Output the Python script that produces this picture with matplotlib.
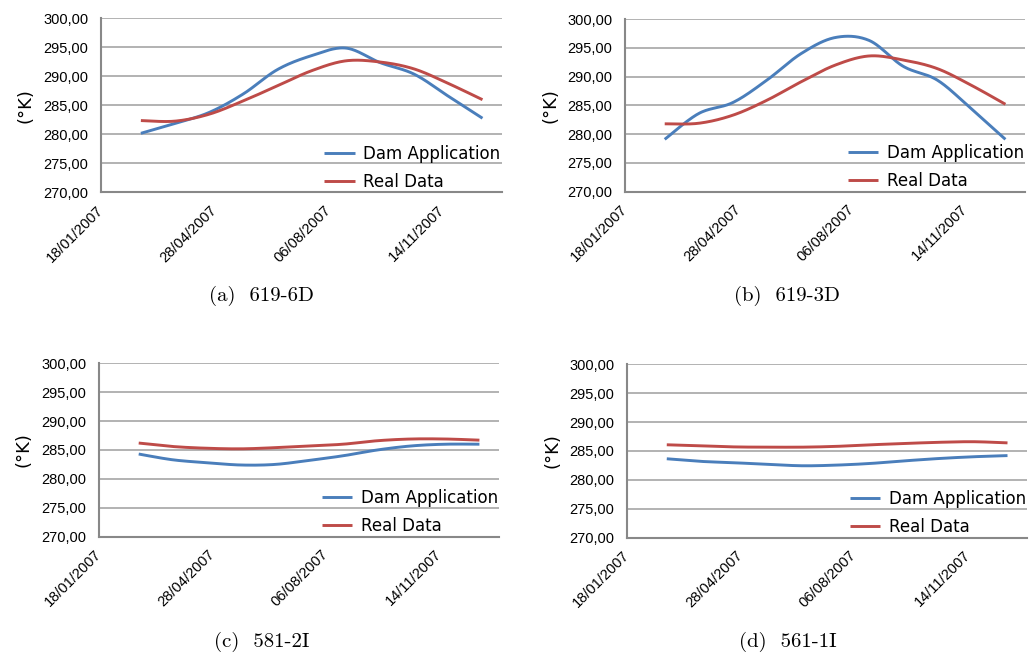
import matplotlib
matplotlib.use("Agg")
import matplotlib.pyplot as plt
import matplotlib.dates as mdates
import numpy as np

# monthly sample dates (same for all four stations)
dates = ['2007-02-22', '2007-03-24', '2007-04-23', '2007-05-23', '2007-06-22', '2007-07-22',
         '2007-08-21', '2007-09-20', '2007-10-20', '2007-11-19', '2007-12-19']

captions = ['(a)  619-6D', '(b)  619-3D', '(c)  581-2I', '(d)  561-1I']

dam_a = [280.2, 281.9, 283.8, 287.0, 291.2, 293.6, 294.9, 292.4, 290.4, 286.6, 282.8]
real_a = [282.4, 282.3, 283.5, 285.8, 288.4, 291.0, 292.7, 292.5, 291.3, 288.8, 286.0]

dam_b = [279.1, 283.6, 285.5, 289.4, 294.0, 296.8, 296.3, 291.8, 289.4, 284.4, 279.1]
real_b = [281.8, 281.9, 283.3, 285.9, 289.1, 292.0, 293.6, 292.9, 291.4, 288.5, 285.2]

dam_c = [284.3, 283.3, 282.8, 282.4, 282.5, 283.2, 284.0, 285.0, 285.7, 286.0, 286.0]
real_c = [286.2, 285.6, 285.3, 285.2, 285.4, 285.7, 286.0, 286.6, 286.9, 286.9, 286.7]

dam_d = [283.65, 283.2, 282.96, 282.67, 282.44, 282.56, 282.85, 283.3, 283.7, 284.0, 284.2]
real_d = [286.07, 285.9, 285.7, 285.66, 285.66, 285.8, 286.07, 286.3, 286.5, 286.6, 286.4]

yticks = [270, 275, 280, 285, 290, 295, 300]
xtick_dates = ['2007-01-18', '2007-04-28', '2007-08-06', '2007-11-14']

BLUE = '#4a7ebb'
RED = '#be4b48'
GRID = '#a6a6a6'


def smooth(x, y, n=30):
    # excel-style smoothed line: bezier segments with catmull-rom control points
    x = np.asarray(x, float)
    y = np.asarray(y, float)
    px = np.concatenate([[x[0]], x, [x[-1]]])
    py = np.concatenate([[y[0]], y, [y[-1]]])
    xs, ys = [], []
    t = np.linspace(0, 1, n)
    for i in range(1, len(px) - 2):
        p0 = np.array([px[i], py[i]])
        p3 = np.array([px[i + 1], py[i + 1]])
        c1 = p0 + (np.array([px[i + 1], py[i + 1]]) - np.array([px[i - 1], py[i - 1]])) / 6
        c2 = p3 - (np.array([px[i + 2], py[i + 2]]) - np.array([px[i], py[i]])) / 6
        b = (np.outer((1 - t) ** 3, p0) + np.outer(3 * (1 - t) ** 2 * t, c1)
             + np.outer(3 * (1 - t) * t ** 2, c2) + np.outer(t ** 3, p3))
        xs.extend(b[:, 0])
        ys.extend(b[:, 1])
    return np.array(xs), np.array(ys)


fig = plt.figure(figsize=(10.33, 6.56), dpi=100)

positions = [[0.0978, 0.7066, 0.388, 0.2652],
             [0.6050, 0.7078, 0.387, 0.2630],
             [0.0958, 0.1819, 0.387, 0.2643],
             [0.6070, 0.1803, 0.387, 0.2645]]
caption_xy = [(0.253, 0.549), (0.762, 0.549), (0.253, 0.022), (0.763, 0.022)]
series = [(dam_a, real_a), (dam_b, real_b), (dam_c, real_c), (dam_d, real_d)]

xnum = mdates.datestr2num(dates)
tick_num = mdates.datestr2num(xtick_dates)
x0 = mdates.datestr2num('2007-01-18')

for k in range(4):
    ax = fig.add_axes(positions[k])
    dam, real = series[k]
    sx, sy = smooth(xnum, dam)
    ax.plot(sx, sy, color=BLUE, lw=2.1, label='Dam Application', solid_capstyle='butt')
    sx, sy = smooth(xnum, real)
    ax.plot(sx, sy, color=RED, lw=2.1, label='Real Data', solid_capstyle='butt')

    ax.set_ylim(270, 300)
    ax.set_xlim(x0, x0 + 352)
    ax.set_yticks(yticks)
    ax.set_yticklabels(['%d,00' % v for v in yticks], family='Liberation Sans', fontsize=10.5)
    ax.set_xticks(tick_num)
    ax.set_xticklabels([d[8:10] + '/' + d[5:7] + '/' + d[0:4] for d in xtick_dates],
                       rotation=45, ha='right', va='center', rotation_mode='anchor',
                       family='Liberation Sans', fontsize=10.5)
    ax.tick_params(axis='y', length=0, pad=9)
    ax.tick_params(axis='x', length=0, pad=11)
    ax.grid(axis='y', color=GRID, lw=1.2)
    ax.set_axisbelow(True)
    for s in ['top', 'right']:
        ax.spines[s].set_visible(False)
    ax.spines['left'].set_color('#888888')
    ax.spines['bottom'].set_color('#888888')
    ax.spines['left'].set_linewidth(1.5)
    ax.spines['bottom'].set_linewidth(1.5)

    ax.set_ylabel('(°K)', fontsize=13)
    ax.yaxis.set_label_coords(-0.165, 0.5)

    ax.legend(loc='lower left', bbox_to_anchor=(0.54, -0.03), frameon=False, fontsize=12,
              handlelength=1.85, handletextpad=0.5, labelspacing=0.6, borderaxespad=0.0)

    fig.text(caption_xy[k][0], caption_xy[k][1], captions[k], ha='center', va='center',
             family='cmr10', fontsize=15)

fig.savefig('out.png', dpi=100)
